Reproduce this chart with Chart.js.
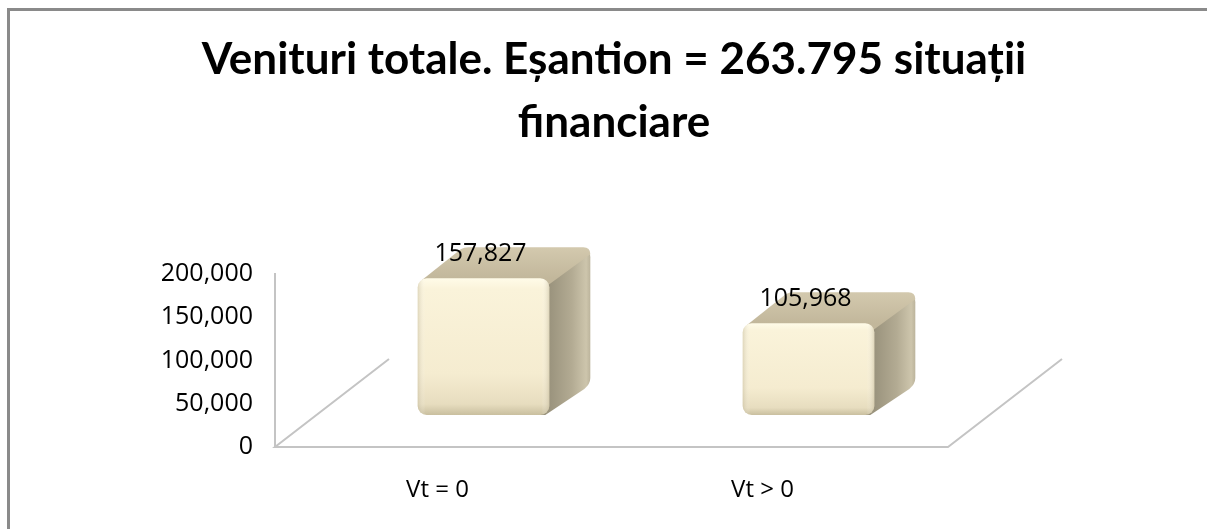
<!DOCTYPE html>
<html>
<head>
<meta charset="utf-8">
<script src="https://cdn.jsdelivr.net/npm/chart.js"></script>
<style>
  html, body { margin: 0; padding: 0; background: #fff; }
  #wrap { width: 1207px; height: 529px; }
</style>
</head>
<body>
<div id="wrap"><canvas id="grafic" width="1207" height="529"></canvas></div>
<script>
// datele graficului
const categorii = ['Vt = 0', 'Vt > 0'];
const valori = [157827, 105968];
const titlu = ['Venituri totale. Eșantion = 263.795 situații', 'financiare'];
const tickMin = 0;
const tickMax = 200000;
const tickPas = 50000;

const fmt = v => v.toLocaleString('en-US');

// deplasari pentru efectul 3D
const OX = 46, OY = -32;   // fata cubului fata de bara calculata
const DX = 41, DY = -31;   // adancimea

// rama, podeaua si cuburile
const decor = {
    id: 'decor',
    afterLayout(chart) {
        if (chart.titleBlock) {
            chart.titleBlock.left = 21;
            chart.titleBlock.right = 1207;
        }
    },
    beforeDatasetsDraw(chart) {
        const c = chart.ctx;
        const a = chart.chartArea;
        c.save();
        // rama
        c.strokeStyle = '#8a8a8a';
        c.lineWidth = 3;
        c.beginPath();
        c.moveTo(8.5, 529);
        c.lineTo(8.5, 9.5);
        c.lineTo(1207, 9.5);
        c.stroke();
        // podeaua
        const dr = a.right + 23;
        c.strokeStyle = '#c4c4c4';
        c.lineWidth = 2;
        c.beginPath();
        c.moveTo(a.left + 114, a.bottom - 88);
        c.lineTo(a.left, a.bottom);
        c.lineTo(dr, a.bottom);
        c.lineTo(dr + 114, a.bottom - 88);
        c.stroke();
        c.restore();
    },
    afterDatasetsDraw(chart) {
        const c = chart.ctx;
        const meta = chart.getDatasetMeta(0);
        c.save();
        meta.data.forEach((bar, i) => {
            const p = bar.getProps(['x', 'y', 'base', 'width'], true);
            const fx = p.x - p.width / 2 + OX;
            const fw = p.width;
            const top = p.y + OY;
            const bot = p.base + OY;

            // fata laterala
            let g = c.createLinearGradient(fx + fw, 0, fx + fw + DX, 0);
            g.addColorStop(0, '#9a937d');
            g.addColorStop(0.55, '#b3ab93');
            g.addColorStop(0.9, '#cdc5ac');
            g.addColorStop(1, '#bcb49c');
            c.fillStyle = g;
            c.beginPath();
            c.moveTo(fx + fw - 10, top + 4);
            c.lineTo(fx + fw + DX - 5, top + DY + 2);
            c.quadraticCurveTo(fx + fw + DX, top + DY + 3, fx + fw + DX, top + DY + 10);
            c.lineTo(fx + fw + DX, bot + DY - 6);
            c.quadraticCurveTo(fx + fw + DX, bot + DY, fx + fw + DX - 6, bot + DY + 5);
            c.lineTo(fx + fw - 4, bot);
            c.lineTo(fx + fw - 10, bot);
            c.closePath();
            c.fill();

            // fata de sus
            g = c.createLinearGradient(0, top, 0, top + DY);
            g.addColorStop(0, '#c2b79b');
            g.addColorStop(1, '#d3c9ae');
            c.fillStyle = g;
            c.beginPath();
            c.moveTo(fx + 4, top + 2);
            c.lineTo(fx + DX + 2, top + DY + 2);
            c.quadraticCurveTo(fx + DX + 5, top + DY, fx + DX + 10, top + DY);
            c.lineTo(fx + fw + DX - 7, top + DY);
            c.quadraticCurveTo(fx + fw + DX, top + DY, fx + fw + DX, top + DY + 7);
            c.lineTo(fx + fw, top + 6);
            c.closePath();
            c.fill();

            // fata din fata
            g = c.createLinearGradient(0, top, 0, bot);
            g.addColorStop(0, '#fffbe8');
            g.addColorStop(0.08, '#faf3da');
            g.addColorStop(0.7, '#f5ecd0');
            g.addColorStop(0.92, '#e7ddbf');
            g.addColorStop(1, '#c9bf9f');
            c.fillStyle = g;
            c.beginPath();
            c.roundRect(fx, top, fw, bot - top, 9);
            c.fill();
            g = c.createLinearGradient(fx, 0, fx + fw, 0);
            g.addColorStop(0, 'rgba(190,180,150,0.45)');
            g.addColorStop(0.06, 'rgba(255,255,255,0)');
            g.addColorStop(0.94, 'rgba(255,255,255,0)');
            g.addColorStop(1, 'rgba(190,180,150,0.45)');
            c.fillStyle = g;
            c.beginPath();
            c.roundRect(fx, top, fw, bot - top, 9);
            c.fill();

            // eticheta valorii
            c.fillStyle = '#000';
            c.font = '25px "Open Sans"';
            c.textAlign = 'center';
            c.textBaseline = 'middle';
            c.fillText(fmt(valori[i]), fx + fw / 2 - 3, top - 24);
        });
        c.restore();
    }
};

new Chart(document.getElementById('grafic'), {
    type: 'bar',
    data: {
        labels: categorii,
        datasets: [{
            data: valori,
            backgroundColor: 'rgba(0,0,0,0)',
            borderWidth: 0,
            barPercentage: 0.405,
            categoryPercentage: 1
        }]
    },
    options: {
        responsive: false,
        animation: false,
        layout: { padding: { left: 0, right: 282, top: 0, bottom: 0 } },
        plugins: {
            legend: { display: false },
            tooltip: { enabled: false },
            title: {
                display: true,
                text: titlu,
                color: '#000',
                font: { family: 'Lato', size: 44, weight: 'bold', lineHeight: 1.43 },
                padding: { top: 28, bottom: 120 }
            }
        },
        scales: {
            x: {
                afterFit(scale) { scale.height = 82; },
                grid: { display: false, drawTicks: false },
                border: { display: false },
                ticks: { color: '#000', padding: 29, font: { family: 'Open Sans', size: 24 } }
            },
            y: {
                min: tickMin,
                max: tickMax,
                afterFit(scale) { scale.width = 275; },
                grid: { display: false, drawTicks: false },
                border: { display: true, color: '#c4c4c4', width: 2 },
                ticks: {
                    stepSize: tickPas,
                    color: '#000',
                    padding: 22,
                    font: { family: 'Open Sans', size: 25 },
                    callback: v => fmt(v)
                }
            }
        }
    },
    plugins: [decor]
});
</script>
</body>
</html>
